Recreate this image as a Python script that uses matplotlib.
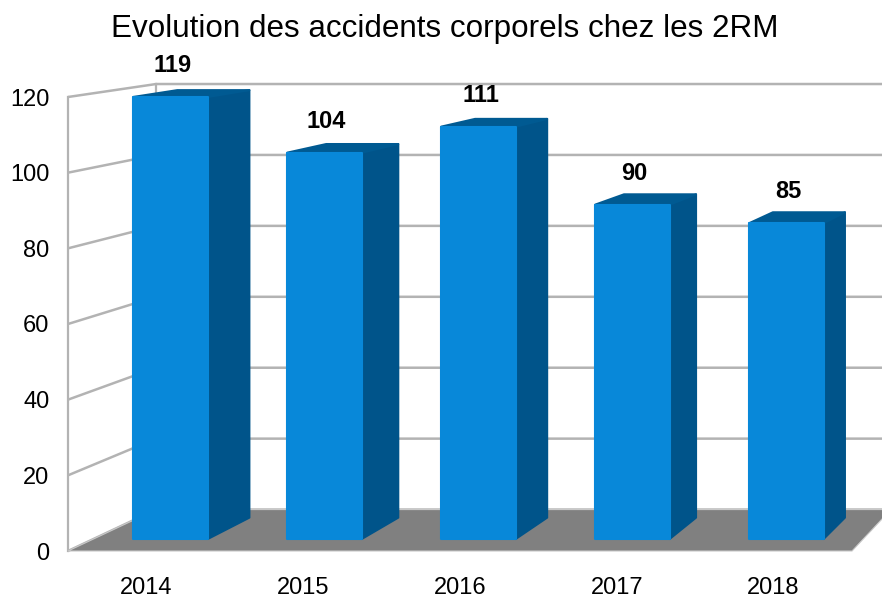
import matplotlib
matplotlib.use("Agg")
import matplotlib.pyplot as plt
from matplotlib.patches import Polygon

# ---- data ----
years = ["2014", "2015", "2016", "2017", "2018"]
accidents = [119, 104, 111, 90, 85]
yticks = [0, 20, 40, 60, 80, 100, 120]
title = "Evolution des accidents corporels chez les 2RM"

plt.rcParams['font.family'] = ['Liberation Sans', 'DejaVu Sans']

W, H = 882, 599
fig = plt.figure(figsize=(W / 100, H / 100), dpi=100)
ax = fig.add_axes([68 / W, 48 / H, 784 / W, 454 / H])
ax.set_xlim(-0.5, len(years) - 0.5)
ax.set_ylim(0, 120)
for s in ax.spines.values():
    s.set_visible(False)
ax.patch.set_visible(False)

# pseudo-3D perspective (in data coordinates)
VX, VV = 8.46, 174.7      # vanishing point
DEPTH = 0.0627            # full depth fraction toward vanishing point
Z0, Z1 = 0.29, 0.805      # bar front/back depth
HALF = 0.242              # half bar width


def proj(x, v, z):
    s = z * DEPTH
    return (x + s * (VX - x), v + s * (VV - v))


GRID = "#b3b3b3"
xl, xr = -0.5, len(years) - 0.5

# walls gridlines
for v in yticks:
    a = proj(xl, v, 0); b = proj(xl, v, 1); c = proj(xr + 0.5, v, 1)
    ax.plot([a[0], b[0], c[0]], [a[1], b[1], c[1]], color=GRID, lw=1.8,
            clip_on=False, zorder=1, solid_capstyle='butt')
for z in (0, 1):
    a = proj(xl, 0, z); b = proj(xl, 120, z)
    ax.plot([a[0], b[0]], [a[1], b[1]], color=GRID, lw=1.6, clip_on=False, zorder=1)

# floor
floor = [proj(xl, 0, 0), proj(xr, 0, 0), proj(xr, 0, 1), proj(xl, 0, 1)]
ax.add_patch(Polygon(floor, closed=True, facecolor="#808080", edgecolor="#c8c8c8",
                     lw=0.8, clip_on=False, zorder=2))

FRONT = "#0888d9"
SIDE = "#00548a"
TOP = "#005a92"

for i, v in enumerate(accidents):
    x0, x1 = i - HALF, i + HALF
    front = [proj(x0, 0, Z0), proj(x1, 0, Z0), proj(x1, v, Z0), proj(x0, v, Z0)]
    side = [proj(x1, 0, Z0), proj(x1, 0, Z1), proj(x1, v, Z1), proj(x1, v, Z0)]
    top = [proj(x0, v, Z0), proj(x1, v, Z0), proj(x1, v, Z1), proj(x0, v, Z1)]
    for pts, col in ((side, SIDE), (top, TOP), (front, FRONT)):
        ax.add_patch(Polygon(pts, closed=True, facecolor=col, edgecolor=col, lw=1.5,
                             joinstyle='round', clip_on=False, zorder=3))
    ax.annotate(str(v), xy=proj(i, v, Z0), xytext=(1.5, 22.5), textcoords='offset points',
                ha='center', va='center', fontsize=17, fontweight='bold', color='black',
                zorder=5, annotation_clip=False)

ax.set_xticks(range(len(years)))
ax.set_xticklabels(years, fontsize=17)
ax.set_yticks(yticks)
ax.set_yticklabels([str(t) for t in yticks], fontsize=17)
ax.tick_params(axis='x', length=0, pad=19)
ax.tick_params(axis='y', length=0, pad=13.5)

fig.text(445 / W, 1 - 29 / H, title, ha='center', va='center', fontsize=22.6)

fig.savefig("out.png", dpi=100)
